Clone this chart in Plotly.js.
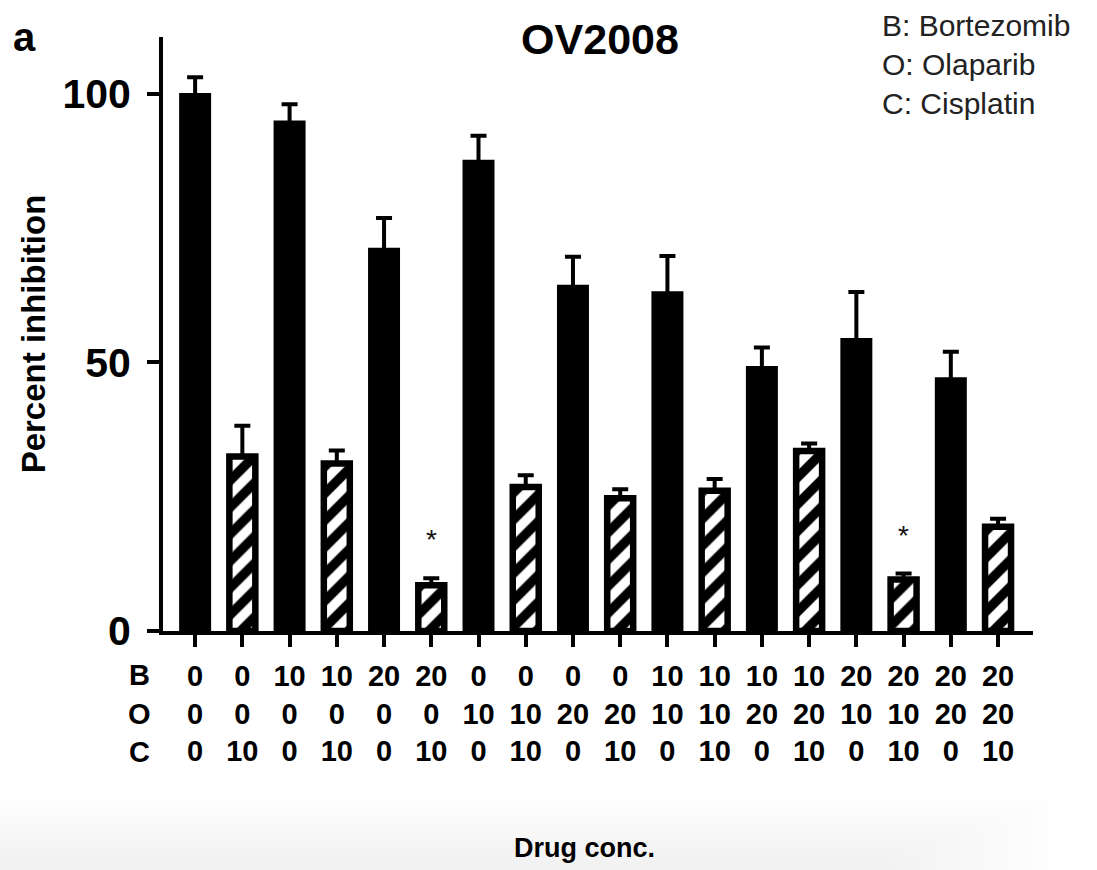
<!DOCTYPE html>
<html>
<head>
<meta charset="utf-8">
<script src="https://cdn.plot.ly/plotly-3.0.1.min.js"></script>
<style>html,body{margin:0;padding:0;background:#fff;}#chart{width:1097px;height:870px;}</style>
</head>
<body>
<div id="chart"></div>
<script>
// Drug concentrations per bar
const bortezomib = [0, 0, 10, 10, 20, 20, 0, 0, 0, 0, 10, 10, 10, 10, 20, 20, 20, 20];
const olaparib   = [0, 0, 0, 0, 0, 0, 10, 10, 20, 20, 10, 10, 20, 20, 10, 10, 20, 20];
const cisplatin  = [0, 10, 0, 10, 0, 10, 0, 10, 0, 10, 0, 10, 0, 10, 0, 10, 0, 10];
// Percent inhibition (mean) and upper error (SEM)
const inhibition = [99.6, 32.5, 94.5, 31.2, 70.8, 8.5, 87.2, 26.8, 63.9, 24.7, 62.7, 26.1, 48.8, 33.5, 54.0, 9.6, 46.7, 19.4];
const errorUp    = [3.5, 5.7, 3.6, 2.4, 6.1, 1.3, 5.0, 2.2, 5.8, 1.7, 7.1, 2.2, 4.0, 1.4, 9.1, 1.1, 5.3, 1.5];
// Significance markers
const starIndex = [5, 15];
const starY = [17.0, 17.8];
const rowLabels = ['B', 'O', 'C'];
const legendLines = ['B: Bortezomib', 'O: Olaparib', 'C: Cisplatin'];

const FONT = 'Liberation Sans, Arial, Helvetica, sans-serif';
const idx = inhibition.map((_, i) => i);
const solidIdx = idx.filter(i => cisplatin[i] === 0);
const hatchIdx = idx.filter(i => cisplatin[i] !== 0);

const barWidth = 0.55;
const errStyle = (ids) => ({
  type: 'data', symmetric: false,
  array: ids.map(i => errorUp[i]), arrayminus: ids.map(() => 0),
  color: '#000', thickness: 4, width: 8
});

const traces = [
  {
    type: 'bar', x: solidIdx, y: solidIdx.map(i => inhibition[i]), width: barWidth,
    marker: {color: '#000', line: {color: '#000', width: 6}},
    error_y: errStyle(solidIdx), hoverinfo: 'skip', showlegend: false
  },
  {
    type: 'bar', x: hatchIdx, y: hatchIdx.map(i => inhibition[i]), width: barWidth,
    marker: {color: '#fff', line: {color: '#000', width: 6.5},
      pattern: {shape: '/', fgcolor: '#000', bgcolor: '#fff', size: 19, solidity: 0.5}},
    error_y: errStyle(hatchIdx), hoverinfo: 'skip', showlegend: false
  }
];

const tickText = idx.map(i => bortezomib[i] + '<br>' + olaparib[i] + '<br>' + cisplatin[i]);

const annotations = [];
starIndex.forEach((k, j) => annotations.push({
  x: k, y: starY[j], xref: 'x', yref: 'y', text: '*', showarrow: false,
  font: {family: FONT, size: 28, color: '#111'}, yanchor: 'middle'
}));
rowLabels.forEach((t, r) => annotations.push({
  x: -0.027, xref: 'paper', xanchor: 'center', y: -(44 + r * 38.5) / 594, yref: 'paper', yanchor: 'middle',
  text: t, showarrow: false, font: {family: FONT, size: 29, color: '#000', weight: 'bold'}
}));
annotations.push({
  x: (880 - 163) / 870, xref: 'paper', xanchor: 'left', y: 1 + (37 - 7) / 594, yref: 'paper', yanchor: 'top',
  text: legendLines.join('<br>'), align: 'left', showarrow: false,
  font: {family: FONT, size: 30, color: '#222'}
});
annotations.push({
  x: (11 - 163) / 870, xref: 'paper', xanchor: 'left', y: 1.0, yref: 'paper', yanchor: 'middle',
  text: 'a', showarrow: false, font: {family: FONT, size: 40, color: '#000', weight: 'bold'}
});
// x-axis title placed under the tick table
annotations.push({
  x: (584 - 163) / 870, xref: 'paper', xanchor: 'center', y: -(848 - 631) / 594, yref: 'paper', yanchor: 'middle',
  text: 'Drug conc.', showarrow: false, font: {family: FONT, size: 27, color: '#000', weight: 'bold'}
});

// very faint grey scan band along the bottom edge (soft steps)
const shapes = [];
for (let k = 0; k < 14; k++) {
  const top = 800 + k * 5;
  const right = 1060 - k * 14;
  shapes.push({
    type: 'rect', xref: 'paper', yref: 'paper', layer: 'below', line: {width: 0},
    fillcolor: 'rgba(0,0,0,0.0045)',
    x0: (0 - 163) / 870, x1: (right - 163) / 870,
    y0: (631 - 870) / 594, y1: (631 - top) / 594
  });
}

const layout = {
  width: 1097, height: 870,
  margin: {l: 163, r: 64, t: 37, b: 239},
  paper_bgcolor: '#fff', plot_bgcolor: 'rgba(0,0,0,0)',
  barmode: 'overlay',
  font: {family: FONT, color: '#000'},
  title: {text: 'OV2008', font: {family: FONT, size: 43, weight: 'bold', color: '#000'},
    x: 600 / 1097, xanchor: 'center', y: 1 - 39 / 870, yanchor: 'middle', xref: 'container', yref: 'container'},
  xaxis: {
    range: [-0.68, 17.74], tickmode: 'array', tickvals: idx, ticktext: tickText,
    ticks: 'outside', ticklen: 12, tickwidth: 4, tickcolor: '#000',
    showline: true, linewidth: 4, linecolor: '#000', showgrid: false, zeroline: false,
    tickfont: {family: FONT, size: 29, weight: 'bold', color: '#000'}, tickangle: 0,
    ticklabelstandoff: 4,
    fixedrange: true
  },
  yaxis: {
    range: [0, 110.6], tickmode: 'array', tickvals: [0, 50, 100], ticktext: ['0', '50', '100'],
    ticks: 'outside', ticklen: 12, tickwidth: 4, tickcolor: '#000',
    showline: true, linewidth: 4, linecolor: '#000', showgrid: false, zeroline: false,
    tickfont: {family: FONT, size: 41, weight: 'bold', color: '#000'},
    ticklabelstandoff: 8,
    title: {text: 'Percent inhibition', font: {family: FONT, size: 33, weight: 'bold', color: '#000'}, standoff: 8},
    fixedrange: true
  },
  shapes: shapes,
  annotations: annotations,
  showlegend: false
};

Plotly.newPlot('chart', traces, layout, {displayModeBar: false, staticPlot: true});
</script>
</body>
</html>
